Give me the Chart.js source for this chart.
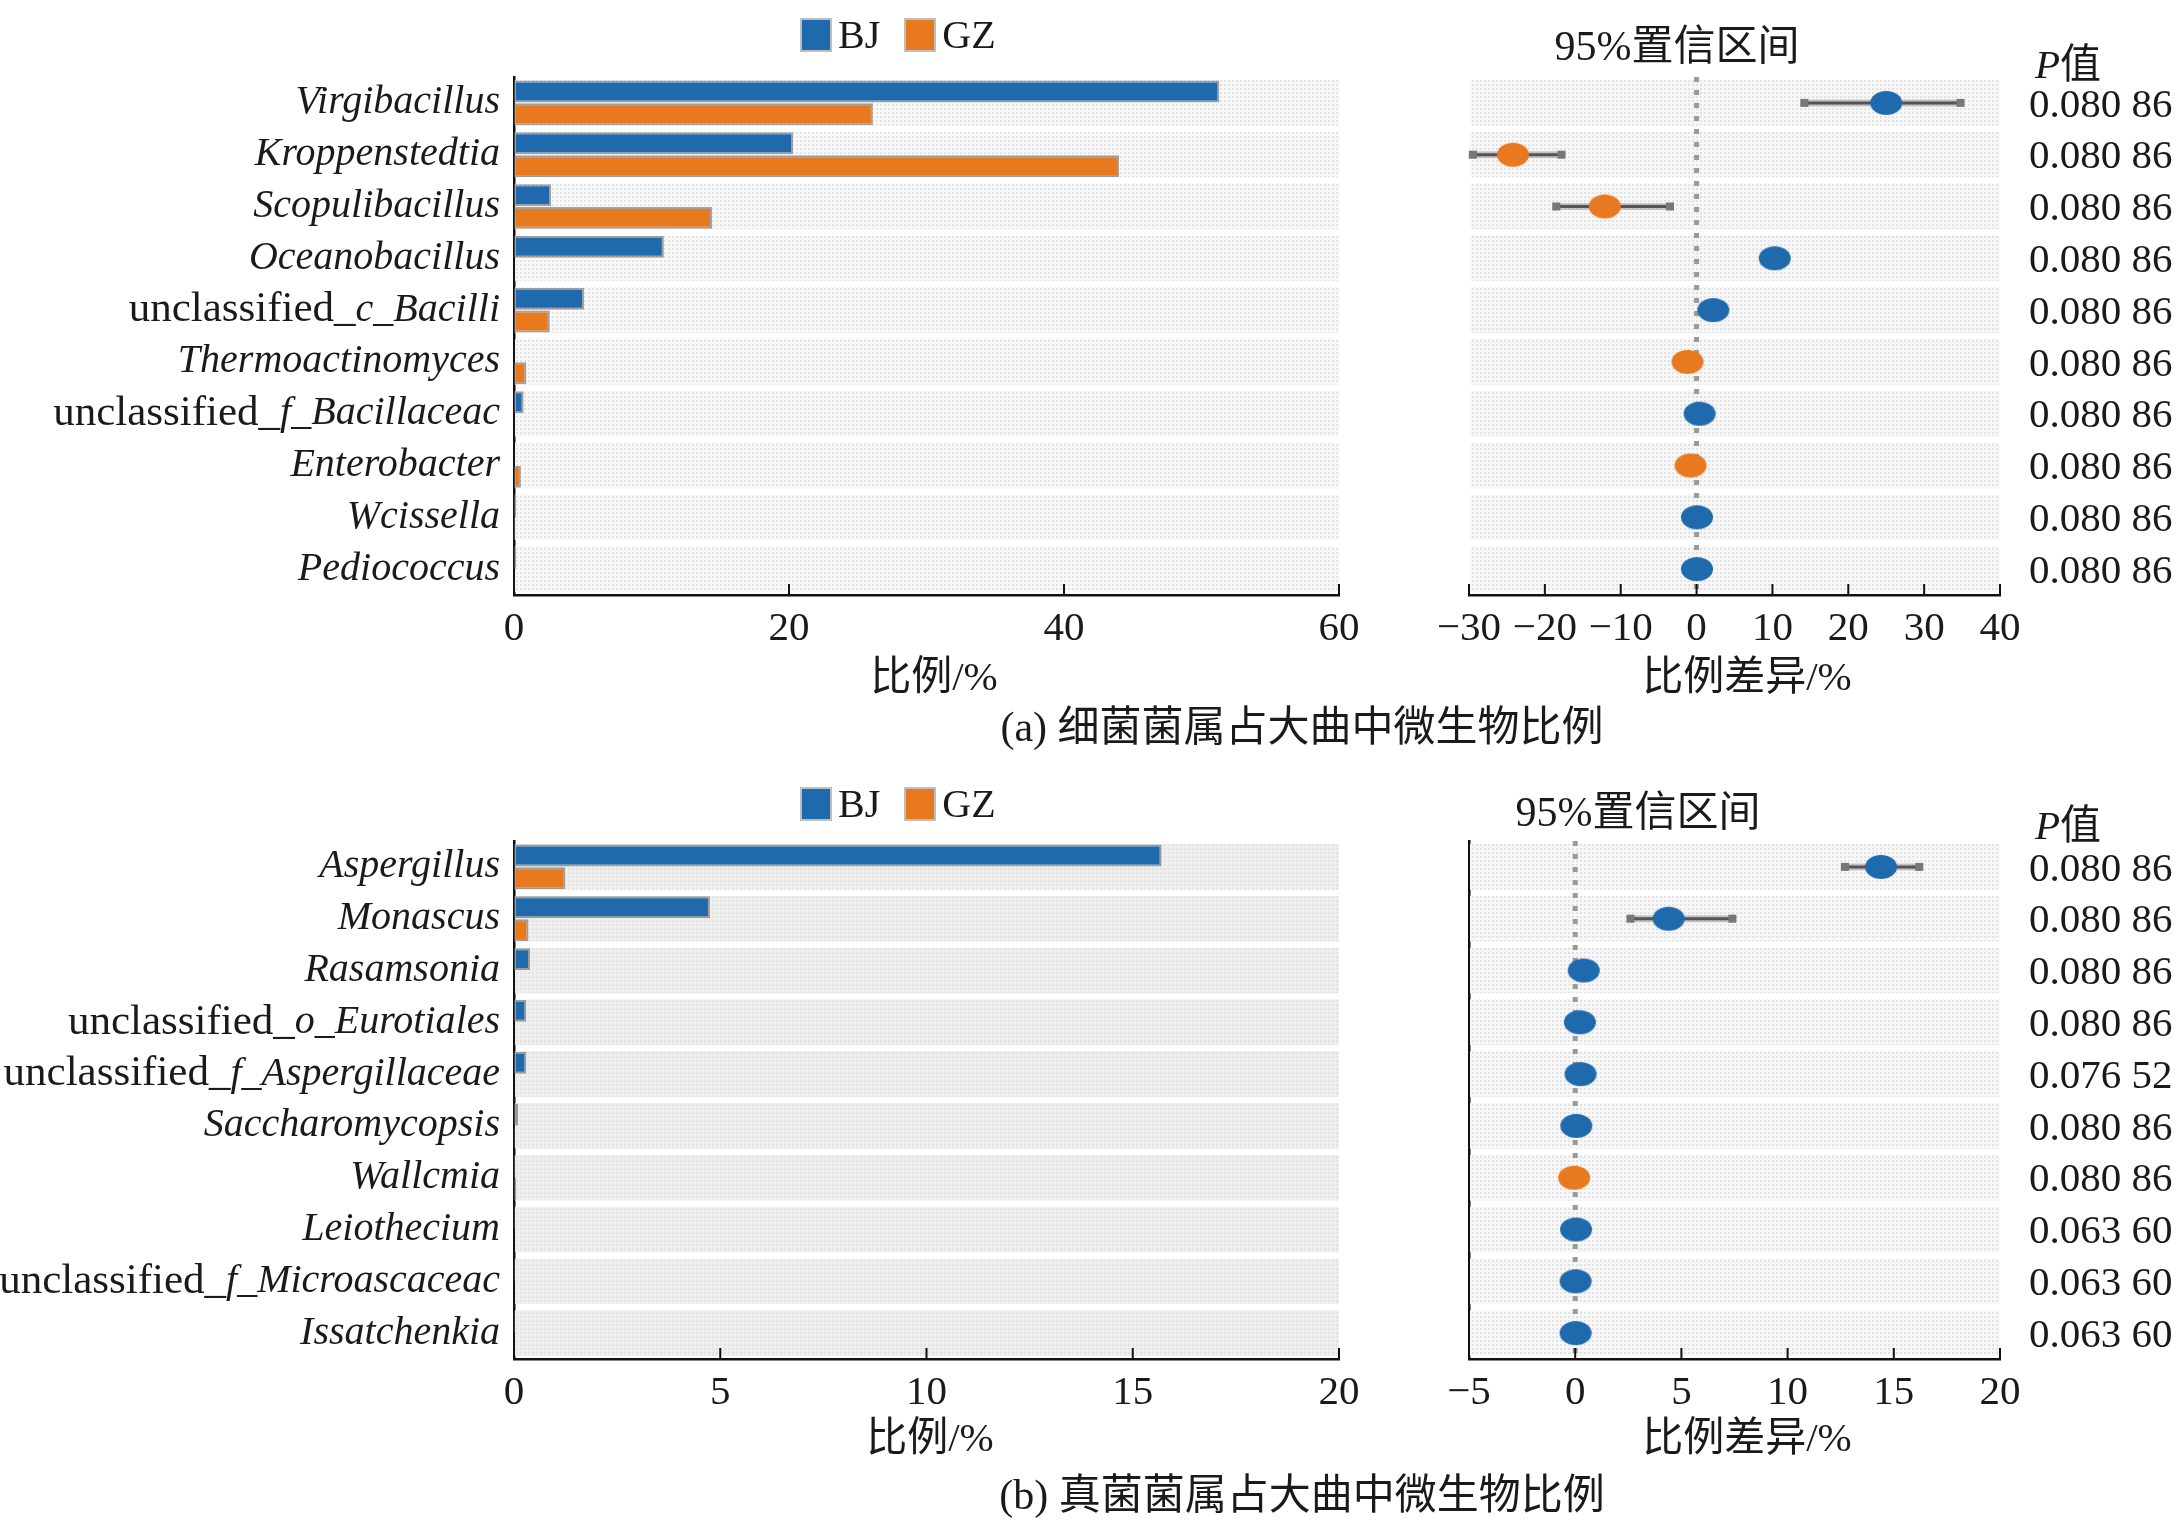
<!DOCTYPE html>
<html>
<head>
<meta charset="utf-8">
<script src="https://cdn.jsdelivr.net/npm/chart.js@4.4.1/dist/chart.umd.min.js"></script>
<style>
  body { margin: 0; background: #fff; width: 2176px; height: 1524px; position: relative; overflow: hidden;
         font-family: "Liberation Serif", "Noto Sans CJK SC", serif; color: #1a1a1a; }
  canvas { position: absolute; }
  .t { position: absolute; white-space: nowrap; font-size: 41px; line-height: 1; transform: translate(-50%, -50%); }
  .cap { font-size: 42px; }
  .p { position: absolute; white-space: nowrap; font-size: 41px; line-height: 1; transform: translateY(-50%); }
  .lg { position: absolute; display: flex; align-items: center; font-size: 40px; line-height: 1; }
  .sw { width: 28px; height: 30px; box-shadow: 0 0 0 2px rgba(110,110,110,.45); margin-right: 8px; }
</style>
</head>
<body>
<canvas id="aLeft" width="1400" height="760" style="left:0;top:0"></canvas>
<canvas id="aRight" width="776" height="760" style="left:1400px;top:0"></canvas>
<canvas id="bLeft" width="1400" height="764" style="left:0;top:760px"></canvas>
<canvas id="bRight" width="776" height="764" style="left:1400px;top:760px"></canvas>

<div class="lg" style="left:802px;top:15px"><div class="sw" style="background:#1f6aad"></div>BJ<div class="sw" style="background:#e8791f;margin-left:26px"></div>GZ</div>
<div class="lg" style="left:802px;top:784px"><div class="sw" style="background:#1f6aad"></div>BJ<div class="sw" style="background:#e8791f;margin-left:26px"></div>GZ</div>

<div class="t" style="left:1677px;top:46px;font-size:42px">95%置信区间</div>
<div class="p" style="left:2035px;top:64px"><i>P</i>值</div>
<div class="t" style="left:934px;top:676px">比例/%</div>
<div class="t" style="left:1747px;top:676px">比例差异/%</div>
<div class="t cap" style="left:1302px;top:727px">(a) 细菌菌属占大曲中微生物比例</div>

<div class="t" style="left:1638px;top:812px;font-size:42px">95%置信区间</div>
<div class="p" style="left:2035px;top:825px"><i>P</i>值</div>
<div class="t" style="left:930px;top:1437px">比例/%</div>
<div class="t" style="left:1747px;top:1437px">比例差异/%</div>
<div class="t cap" style="left:1302px;top:1495px">(b) 真菌菌属占大曲中微生物比例</div>

<script>
// ---- (a) bacteria ----
const bactGenera = ['Virgibacillus', 'Kroppenstedtia', 'Scopulibacillus', 'Oceanobacillus',
  'unclassified_c_Bacilli', 'Thermoactinomyces', 'unclassified_f_Bacillaceac', 'Enterobacter',
  'Wcissella', 'Pediococcus'];
const bactBJ = [51.3, 20.3, 2.7, 10.9, 5.1, 0, 0.7, 0, 0.15, 0.15];
const bactGZ = [26.1, 44.0, 14.4, 0, 2.6, 0.9, 0, 0.5, 0.1, 0];
const bactDiff = [25.0, -24.2, -12.1, 10.3, 2.2, -1.2, 0.4, -0.8, 0.05, 0.05];
const bactLow = [14.2, -29.5, -18.5, 9.5, 1.6, -1.6, 0.1, -1.1, -0.1, -0.1];
const bactHigh = [34.8, -17.8, -3.5, 11.1, 2.8, -0.8, 0.7, -0.5, 0.2, 0.2];
const bactP = ['0.080 86', '0.080 86', '0.080 86', '0.080 86', '0.080 86',
  '0.080 86', '0.080 86', '0.080 86', '0.080 86', '0.080 86'];
const bactTicksLeft = [0, 60, 20];   // min, max, step
const bactTicksRight = [-30, 40, 10];

// ---- (b) fungi ----
const fungGenera = ['Aspergillus', 'Monascus', 'Rasamsonia', 'unclassified_o_Eurotiales',
  'unclassified_f_Aspergillaceae', 'Saccharomycopsis', 'Wallcmia', 'Leiothecium',
  'unclassified_f_Microascaceac', 'Issatchenkia'];
const fungBJ = [15.7, 4.75, 0.39, 0.3, 0.3, 0.1, 0.03, 0.02, 0.02, 0.02];
const fungGZ = [1.24, 0.35, 0, 0, 0, 0.02, 0.05, 0, 0, 0];
const fungDiff = [14.4, 4.4, 0.4, 0.22, 0.25, 0.05, -0.05, 0.04, 0.02, 0.02];
const fungLow = [12.7, 2.6, 0.2, 0.1, 0.1, 0, -0.1, 0, 0, 0];
const fungHigh = [16.2, 7.4, 0.6, 0.35, 0.4, 0.1, 0, 0.08, 0.04, 0.04];
const fungP = ['0.080 86', '0.080 86', '0.080 86', '0.080 86', '0.076 52',
  '0.080 86', '0.080 86', '0.063 60', '0.063 60', '0.063 60'];
const fungTicksLeft = [0, 20, 5];
const fungTicksRight = [-5, 20, 5];

const BLUE = '#1f6aad', ORANGE = '#e8791f';
const SERIF = '"Liberation Serif", "Noto Sans CJK SC", serif';

function makePattern(base, dot) {
  const c = document.createElement('canvas');
  c.width = 4; c.height = 4;
  const g = c.getContext('2d');
  g.fillStyle = base; g.fillRect(0, 0, 4, 4);
  g.fillStyle = dot; g.fillRect(0, 0, 2, 2);
  return g.createPattern(c, 'repeat');
}

function makeDot(color) {
  const c = document.createElement('canvas');
  c.width = 34; c.height = 26;
  const g = c.getContext('2d');
  g.fillStyle = color;
  g.beginPath();
  g.ellipse(17, 13, 16, 12, 0, 0, Math.PI * 2);
  g.fill();
  return c;
}
const blueDot = makeDot(BLUE), orangeDot = makeDot(ORANGE);

// row bands, labels, inward ticks, zero line, error bars, P values
const decor = {
  id: 'decor',
  beforeDatasetsDraw(chart, args, o) {
    const { ctx, chartArea: a } = chart;
    const y = chart.scales.y;
    const pitch = (a.bottom - a.top) / y.getLabels().length;
    ctx.save();
    ctx.fillStyle = makePattern(o.band[0], o.band[1]);
    y.getLabels().forEach((_, i) => {
      const cy = y.getPixelForValue(i);
      ctx.fillRect(a.left + 1, cy - pitch * 0.44, a.right - a.left - 1, pitch * 0.88);
    });
    if (o.zero) {
      const x0 = chart.scales.x.getPixelForValue(0);
      ctx.strokeStyle = '#9a9a9a'; ctx.lineWidth = 5;
      ctx.setLineDash([5, 8]);
      ctx.beginPath(); ctx.moveTo(x0, a.top); ctx.lineTo(x0, a.bottom); ctx.stroke();
      ctx.setLineDash([]);
    }
    if (o.low) {
      const x = chart.scales.x;
      o.low.forEach((lo, i) => {
        const cy = y.getPixelForValue(i);
        const x1 = x.getPixelForValue(lo), x2 = x.getPixelForValue(o.high[i]);
        ctx.strokeStyle = 'rgba(150,150,150,0.5)'; ctx.lineWidth = 7;
        ctx.beginPath(); ctx.moveTo(x1, cy); ctx.lineTo(x2, cy); ctx.stroke();
        ctx.strokeStyle = '#555'; ctx.lineWidth = 3;
        ctx.beginPath(); ctx.moveTo(x1, cy); ctx.lineTo(x2, cy); ctx.stroke();
        ctx.fillStyle = '#777';
        ctx.fillRect(x1 - 4, cy - 4, 8, 8);
        ctx.fillRect(x2 - 4, cy - 4, 8, 8);
      });
    }
    ctx.restore();
  },
  afterDraw(chart, args, o) {
    const { ctx, chartArea: a } = chart;
    const y = chart.scales.y, x = chart.scales.x;
    ctx.save();
    ctx.fillStyle = '#1a1a1a';
    ctx.textBaseline = 'middle';
    if (o.names) {
      const right = a.left - 14;
      o.names.forEach((name, i) => {
        const cy = y.getPixelForValue(i);
        let up = '', it = name;
        if (name.startsWith('unclassified_')) { up = 'unclassified_'; it = name.slice(13); }
        ctx.font = 'italic 40px ' + SERIF;
        const wi = ctx.measureText(it).width;
        ctx.textAlign = 'left';
        ctx.fillText(it, right - wi, cy);
        ctx.font = '43px ' + SERIF;
        const wu = ctx.measureText(up).width;
        ctx.fillText(up, right - wi - wu, cy);
      });
    }
    if (o.pvals) {
      ctx.font = '41px ' + SERIF;
      ctx.textAlign = 'left';
      o.pvals.forEach((p, i) => ctx.fillText(p, a.right + 29, y.getPixelForValue(i) + 3));
    }
    ctx.strokeStyle = '#111'; ctx.lineWidth = 2;
    x.ticks.forEach(t => {
      const px = x.getPixelForValue(t.value);
      ctx.beginPath(); ctx.moveTo(px, a.bottom); ctx.lineTo(px, a.bottom - 11); ctx.stroke();
    });
    ctx.restore();
  }
};

function xScale(t) {
  return {
    type: 'linear', min: t[0], max: t[1],
    grid: { display: false, drawTicks: false },
    border: { display: true, color: '#111', width: 2.5 },
    ticks: { stepSize: t[2], padding: 10, color: '#1a1a1a', font: { family: SERIF, size: 41 },
      callback: v => String(v).replace('-', '\u2212') },
    afterFit: s => { s.height = 60; }
  };
}

function yScale(labels, leftWidth, showBorder) {
  return {
    type: 'category', labels: labels, offset: true,
    grid: { display: false, drawTicks: false },
    border: { display: showBorder, color: '#111', width: 2.5 },
    ticks: { display: false },
    afterFit: s => { s.width = leftWidth; }
  };
}

function barChart(id, genera, bj, gz, ticks, top, band) {
  new Chart(document.getElementById(id), {
    type: 'bar',
    data: {
      labels: genera,
      datasets: [
        { label: 'BJ', data: bj, backgroundColor: BLUE },
        { label: 'GZ', data: gz, backgroundColor: ORANGE }
      ]
    },
    options: {
      indexAxis: 'y', responsive: false, animation: false,
      datasets: { bar: { categoryPercentage: 0.88, barPercentage: 0.96, borderWidth: 2,
        borderColor: 'rgba(105,105,105,0.6)', borderSkipped: false } },
      layout: { padding: { top: top, right: 61, bottom: 760 - top - 518 - 60 + (id === 'bLeft' ? 4 : 0), left: 0 } },
      scales: { x: xScale(ticks), y: yScale(genera, 514, true) },
      plugins: { legend: { display: false }, tooltip: { enabled: false },
        decor: { band: band, names: genera } }
    },
    plugins: [decor]
  });
}

function ciChart(id, genera, diff, low, high, pvals, ticks, top, showBorder) {
  new Chart(document.getElementById(id), {
    type: 'scatter',
    data: {
      datasets: [{
        data: diff.map((d, i) => ({ x: d, y: genera[i] })),
        pointStyle: c => diff[c.dataIndex] >= 0 ? blueDot : orangeDot,
        pointRadius: 14
      }]
    },
    options: {
      responsive: false, animation: false,
      layout: { padding: { top: top, right: 176, bottom: 760 - top - 518 - 60 + (id === 'bRight' ? 4 : 0), left: 0 } },
      scales: { x: xScale(ticks), y: yScale(genera, 69, showBorder) },
      plugins: { legend: { display: false }, tooltip: { enabled: false },
        decor: { band: ['#f7f7f7', '#e3e3e3'], zero: true, low: low, high: high, pvals: pvals } }
    },
    plugins: [decor]
  });
}

barChart('aLeft', bactGenera, bactBJ, bactGZ, bactTicksLeft, 77, ['#f8f8f8', '#e4e4e4']);
ciChart('aRight', bactGenera, bactDiff, bactLow, bactHigh, bactP, bactTicksRight, 77, false);
barChart('bLeft', fungGenera, fungBJ, fungGZ, fungTicksLeft, 81, ['#eeeeee', '#e2e2e2']);
ciChart('bRight', fungGenera, fungDiff, fungLow, fungHigh, fungP, fungTicksRight, 81, true);
</script>
</body>
</html>
